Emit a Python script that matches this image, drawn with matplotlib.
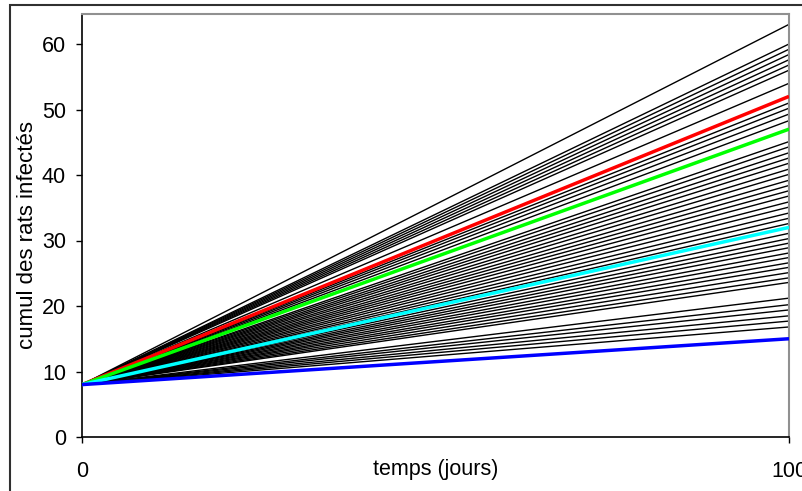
import matplotlib.pyplot as plt
from matplotlib.patches import Rectangle

plt.rcParams['font.family'] = ['Liberation Sans', 'DejaVu Sans']

# time span (days) and starting value
days = [0, 100]
start = 8

# end values of the simulated trajectories (black)
black_ends = [63.0, 60.0, 59.2, 58.4, 57.6, 56.8, 56.0, 54.0,
              51.0, 50.2, 49.3, 48.3,
              45.1, 44.3, 43.4, 42.6, 41.8, 40.9, 40.1, 39.2, 38.4, 37.6,
              36.8, 35.9, 35.1, 34.2, 33.4, 32.6,
              31.1, 30.3, 29.6, 28.9, 28.1, 27.4, 26.6, 25.9, 25.1, 24.3, 23.6,
              21.2, 20.2, 19.4, 18.5, 17.7, 16.8]

# highlighted trajectories
colored_ends = [52, 47, 32, 15]
colored_cols = ['#ff0000', '#00ff00', '#00ffff', '#0000ff']

yticks = [0, 10, 20, 30, 40, 50, 60]

W, H = 803, 491
fig = plt.figure(figsize=(W / 100, H / 100), dpi=100)
ax = fig.add_axes([82 / W, (H - 437) / H, (789 - 82) / W, (437 - 14) / H])

for end in black_ends:
    ax.plot(days, [start, end], color='black', lw=1.0, solid_capstyle='butt')
for end, c in zip(colored_ends, colored_cols):
    ax.plot(days, [start, end], color=c, lw=2.5, zorder=3, solid_capstyle='butt')

ax.set_xlim(0, 100)
ax.set_ylim(0, (437 - 14) / 6.55)
ax.set_xticks([0, 100])
ax.set_yticks(yticks)
ax.tick_params(axis='both', direction='out', length=4.5, width=1, labelsize=15.5)
ax.tick_params(axis='y', pad=7)
ax.tick_params(axis='x', pad=13)

for s in ['top', 'right']:
    ax.spines[s].set_color('#909090')
    ax.spines[s].set_linewidth(1.5)
for s in ['left', 'bottom']:
    ax.spines[s].set_color('black')
    ax.spines[s].set_linewidth(1.2)

ax.set_xlabel('temps (jours)', fontsize=15.5)
ax.xaxis.set_label_coords(0.5, -0.052)
ax.set_ylabel('cumul des rats infectés', fontsize=16)
ax.yaxis.set_label_coords(-0.062, 0.478)

# outer chart frame (only left and top edges are inside the image)
fig.patches.append(Rectangle((10 / W, -0.5), 2, 1.5 - 5 / H, transform=fig.transFigure,
                             fill=False, edgecolor='#303030', lw=1.5))

fig.savefig('out.png', dpi=100)
